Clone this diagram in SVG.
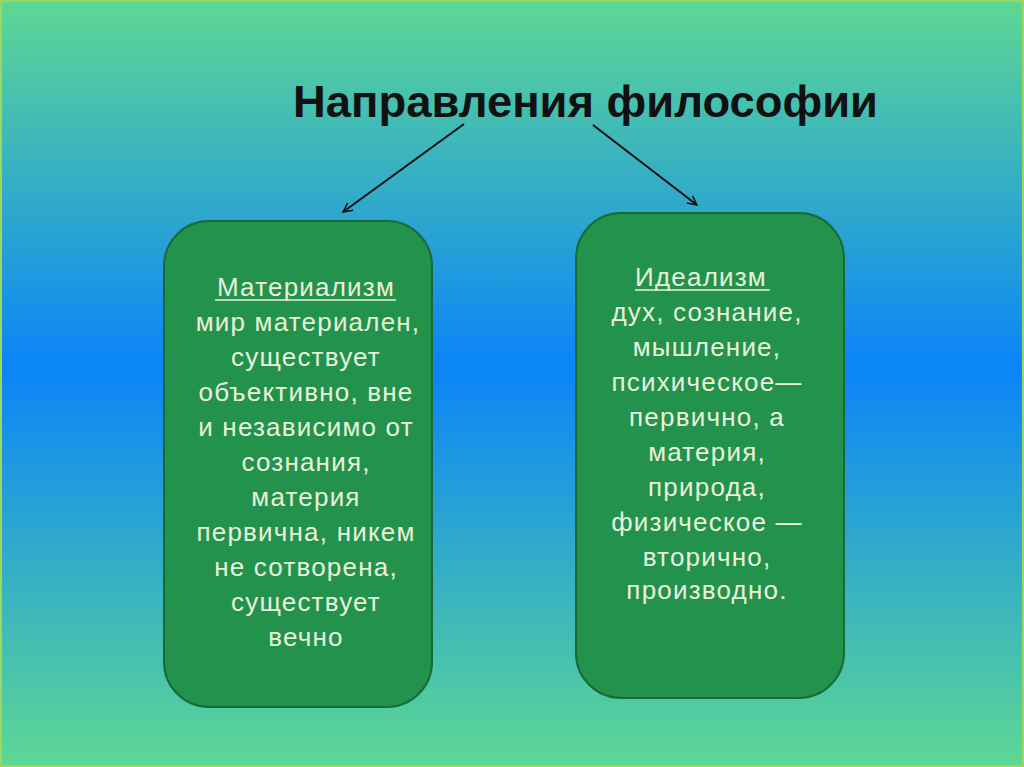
<svg xmlns="http://www.w3.org/2000/svg" width="1024" height="767" viewBox="0 0 1024 767">
<defs>
<linearGradient id="bg" x1="0" y1="0" x2="0" y2="1">
<stop offset="0" stop-color="#5ed893"/>
<stop offset="0.48" stop-color="#0a84f8"/>
<stop offset="1" stop-color="#5ed893"/>
</linearGradient>
<marker id="ah" viewBox="0 0 12 12" refX="11" refY="6" markerWidth="11" markerHeight="11" markerUnits="userSpaceOnUse" orient="auto">
<path d="M1,1 L11,6 L1,11" fill="none" stroke="#111" stroke-width="1.6"/>
</marker>
</defs>
<style>
.box{fill:#23924c;stroke:#1a6a36;stroke-width:2}
.t{font-family:"Liberation Sans",Arial,sans-serif;font-size:26px;letter-spacing:1.2px;fill:#e8f2dc;text-anchor:middle}
.ul{stroke:#e8f2dc;stroke-width:1.5}
.title{font-family:"Liberation Sans",Arial,sans-serif;font-size:44px;font-weight:bold;fill:#111}
.con{stroke:#111;stroke-width:2;fill:none}
</style>
<rect x="0" y="0" width="1024" height="767" fill="url(#bg)"/>
<rect x="1" y="1" width="1022" height="765" fill="none" stroke="#9ad860" stroke-width="2"/>
<g id="title">
<text class="title" x="293" y="117" textLength="585" lengthAdjust="spacingAndGlyphs">Направления философии</text>
</g>
<g id="connectors">
<line class="con" x1="464" y1="124" x2="343" y2="212" marker-end="url(#ah)"/>
<line class="con" x1="593" y1="125" x2="697" y2="205" marker-end="url(#ah)"/>
</g>
<g id="materialism">
<rect class="box" x="164" y="221" width="268" height="486" rx="45" ry="45"/>
<text class="t" x="306" y="296">Материализм</text>
<line class="ul" x1="215" y1="300" x2="396" y2="300"/>
<text class="t" x="308" y="331">мир материален,</text>
<text class="t" x="306" y="366">существует</text>
<text class="t" x="306" y="401">объективно, вне</text>
<text class="t" x="306" y="436">и независимо от</text>
<text class="t" x="306" y="471">сознания,</text>
<text class="t" x="306" y="506">материя</text>
<text class="t" x="306" y="541">первична, никем</text>
<text class="t" x="306" y="576">не сотворена,</text>
<text class="t" x="306" y="611">существует</text>
<text class="t" x="306" y="646">вечно</text>
</g>
<g id="idealism">
<rect class="box" x="576" y="213" width="268" height="485" rx="45" ry="45"/>
<text class="t" x="701" y="286">Идеализм</text>
<line class="ul" x1="635" y1="290" x2="770" y2="290"/>
<text class="t" x="707" y="321">дух, сознание,</text>
<text class="t" x="707" y="356">мышление,</text>
<text class="t" x="707" y="391">психическое—</text>
<text class="t" x="707" y="426">первично, а</text>
<text class="t" x="707" y="461">материя,</text>
<text class="t" x="707" y="496">природа,</text>
<text class="t" x="707" y="531">физическое —</text>
<text class="t" x="707" y="566">вторично,</text>
<text class="t" x="707" y="599">производно.</text>
</g>
</svg>
